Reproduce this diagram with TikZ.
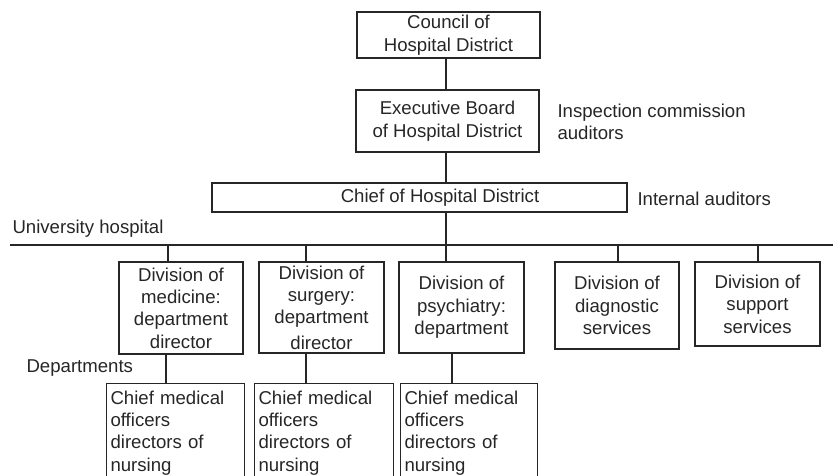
\documentclass[tikz,border=0pt]{standalone}
\usepackage{fontspec}
\setmainfont{Liberation Sans}
\usetikzlibrary{positioning}

\begin{document}
\begin{tikzpicture}[x=1pt,y=-1pt,color=black!85,line width=1.1pt]
  \tikzstyle{every node}=[font=\fontsize{18.6}{22.4}\selectfont]
  \tikzstyle{unit}=[draw,rectangle,inner sep=0pt,align=center]
  \tikzstyle{lbl}=[anchor=west,inner sep=0pt,align=left]
  \tikzstyle{staff}=[draw,rectangle,anchor=north west,inner xsep=4pt,inner ysep=7pt,align=left]
  \useasboundingbox (0,0) rectangle (833,475);

  % governing bodies
  \node[unit,minimum width=183pt,minimum height=46pt] (council) at (448.5,35) {Council of\\Hospital District};
  \node[unit,minimum width=183pt,minimum height=62pt] (exec)    at (447.5,121) {Executive Board\\of Hospital District};
  \node[unit,minimum width=415pt,minimum height=29pt] (chief)   at (419.5,197.5) {\hspace*{41pt}Chief of Hospital District};
  \node[lbl] (insp)  at (557,122) {Inspection commission\\auditors};
  \node[lbl] (intau) at (637,199) {Internal auditors};
  \node[lbl] (univ)  at (12,229)  {University hospital};
  \node[lbl] (depts) at (26,368)  {Departments};

  \coordinate (spine) at (446,245);
  \coordinate (barL)  at (10,245);
  \coordinate (barR)  at (833,245);

  % divisions
  \node[unit,minimum width=124pt,minimum height=92pt] (med)   at (181,308)   {Division of\\medicine:\\department\\director};
  \node[unit,minimum width=125pt,minimum height=91pt] (surg)  at (321.5,307.5) {Division of\\surgery:\\department\\[3pt]director};
  \node[unit,minimum width=125pt,minimum height=91pt] (psych) at (461.5,307.5) {Division of\\psychiatry:\\department};
  \node[unit,minimum width=124pt,minimum height=87pt] (diag)  at (617,305.5)   {Division of\\diagnostic\\services};
  \node[unit,minimum width=125pt,minimum height=84pt] (supp)  at (757.5,304)   {Division of\\support\\services};

  % departments (boxes run off the bottom edge)
  \node[staff,text width=130pt] (cmoA) at (106,383) {Chief medical\\officers\\directors of\\nursing};
  \node[staff,text width=131pt] (cmoB) at (254,383) {Chief medical\\officers\\directors of\\nursing};
  \node[staff,text width=129pt] (cmoC) at (400,383) {Chief medical\\officers\\directors of\\nursing};

  % connectors
  \draw (council.south -| spine) -- (exec.north -| spine);
  \draw (exec.south -| spine) -- (chief.north -| spine);
  \draw (chief.south -| spine) -- (spine);
  \draw[line width=2pt] (barL) -- (barR);
  \foreach \n/\x in {med/168,surg/306,psych/446,diag/618,supp/758}
    \draw (\n.north -| \x,0) -- (spine -| \x,0);
  \foreach \n/\m/\x in {med/cmoA/166,surg/cmoB/306,psych/cmoC/452}
    \draw (\n.south -| \x,0) -- (\m.north -| \x,0);
\end{tikzpicture}
\end{document}
